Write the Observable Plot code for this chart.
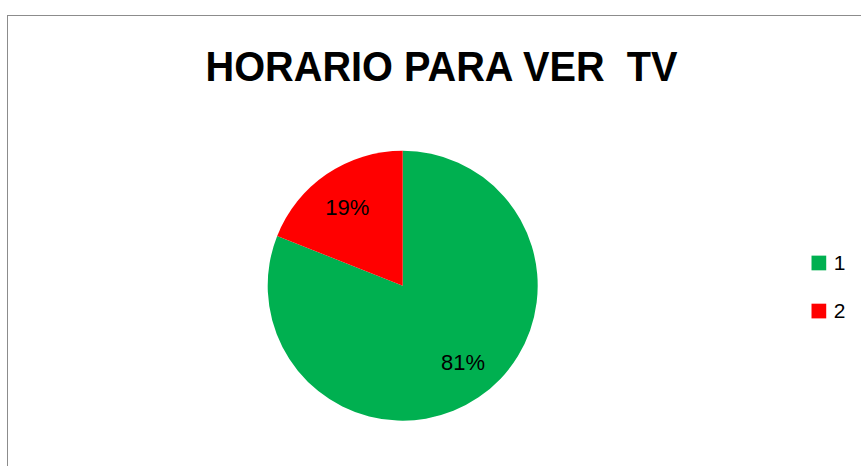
<!DOCTYPE html>
<html>
<head>
<meta charset="utf-8">
<script src="https://cdn.jsdelivr.net/npm/d3@7"></script>
<script src="https://cdn.jsdelivr.net/npm/@observablehq/plot@0.6"></script>
<style>
  html, body { margin: 0; padding: 0; background: #fff; }
  #wrap { position: relative; width: 861px; height: 466px; overflow: hidden; }
  #border { position: absolute; left: 7px; top: 15px; right: -2px; bottom: -2px;
            border-top: 1px solid #8c8c8c; border-left: 1px solid #8c8c8c; }
  #wrap svg { position: absolute; left: 0; top: 0; }
  #wrap svg text { white-space: pre; }
</style>
</head>
<body>
<div id="wrap"><div id="border"></div></div>
<script>
// ---- data ----
const title = "HORARIO PARA VER  TV";
const categories = ["1", "2"];
const values = [81, 19];
const percentLabels = ["81%", "19%"];
const colors = ["#00B050", "#FF0000"];

// ---- layout ----
const W = 861, H = 466;
const cx = 402.7, cy = 285.7, R = 135;
const labelRadius = 0.71;
const labelDx = [6, -2], labelDy = [-3, 1];
const legendX = 3.079, legendTextX = 3.19;
const legendY = [0.172, -0.184];
const titleWidth = 472;

const arcs = d3.pie().sort(null).value(d => d)(values);
const labelData = arcs.map((a, i) => {
  const mid = (a.startAngle + a.endAngle) / 2;
  return { label: percentLabels[i], x: Math.sin(mid) * labelRadius, y: Math.cos(mid) * labelRadius, dx: labelDx[i], dy: labelDy[i] };
});
const legendData = categories.map((c, i) => ({ cat: c, color: colors[i], x: legendX, tx: legendTextX, y: legendY[i] }));

const slices = (index, scales) => {
  const x0 = scales.x(0), y0 = scales.y(0), r = scales.x(1) - scales.x(0);
  const arc = d3.arc().innerRadius(0).outerRadius(r);
  const g = d3.create("svg:g").attr("transform", `translate(${x0},${y0})`);
  g.selectAll("path").data(arcs).join("path")
    .attr("d", arc)
    .attr("fill", (d, i) => colors[i]);
  return g.node();
};

const chart = Plot.plot({
  width: W,
  height: H,
  margin: 0,
  style: { background: "transparent", fontFamily: "'Liberation Sans', Arial, sans-serif" },
  x: { domain: [-1, 1], range: [cx - R, cx + R], axis: null },
  y: { domain: [-1, 1], range: [cy + R, cy - R], axis: null },
  marks: [
    slices,
    ...labelData.map(d => Plot.text([d], { x: "x", y: "y", text: "label", dx: d.dx, dy: d.dy, fontSize: 22, fill: "#000", textAnchor: "middle" })),
    Plot.text([title], { frameAnchor: "top", lineAnchor: "top", dx: 10.5, dy: 50, text: d => d,
      fontSize: 43, fontWeight: "bold", fill: "#000", className: "chart-title" }),
    Plot.dot(legendData, { x: "x", y: "y", symbol: "square", r: 8.3, fill: "color", stroke: null }),
    Plot.text(legendData, { x: "tx", y: "y", text: "cat", textAnchor: "start", fontSize: 21, fill: "#000" })
  ]
});
d3.select(chart).selectAll(".chart-title text")
  .attr("textLength", titleWidth)
  .attr("lengthAdjust", "spacingAndGlyphs");
document.getElementById("wrap").appendChild(chart);
</script>
</body>
</html>
